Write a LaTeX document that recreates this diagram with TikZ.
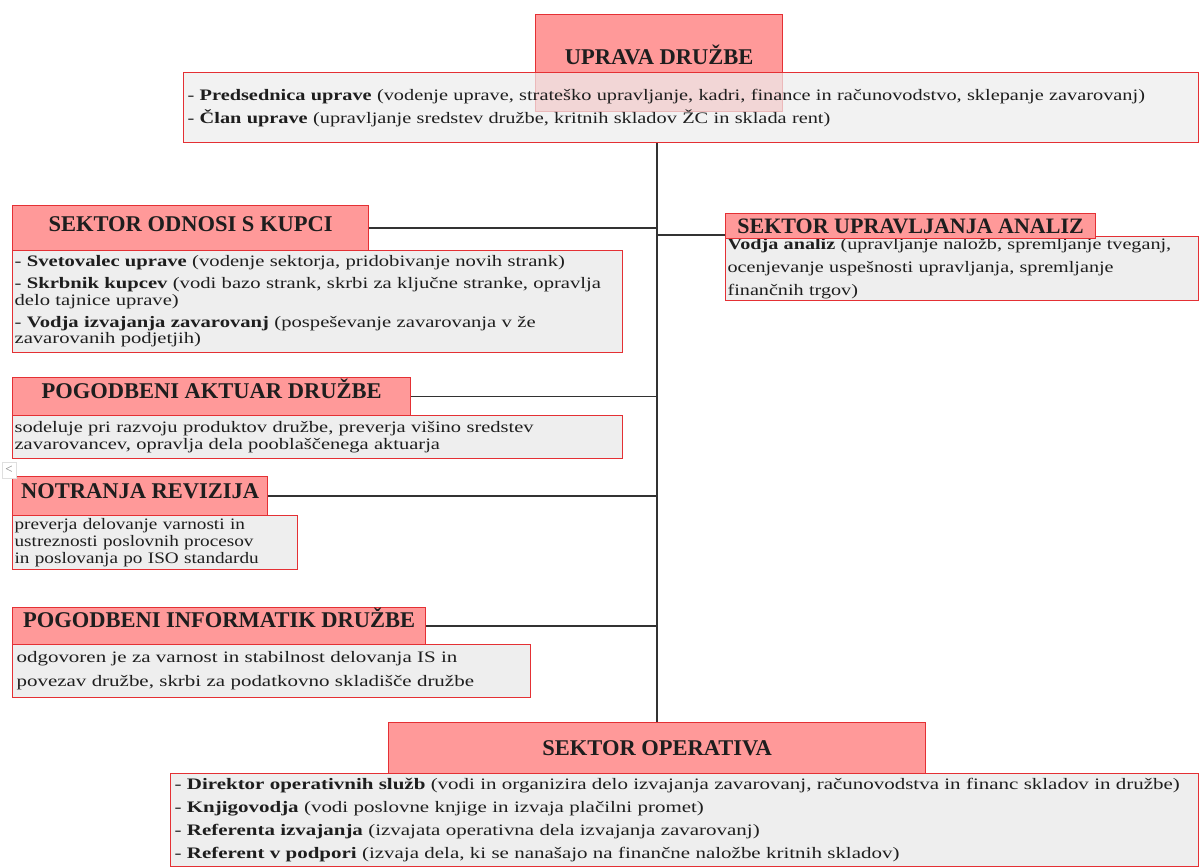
\documentclass[tikz,border=0pt]{standalone}
\usepackage{fontspec}
\setmainfont{Liberation Serif}
\newfontfamily\bodyfont{Liberation Serif}
\newfontfamily\hdrfont{Liberation Serif}
\usetikzlibrary{calc}
\definecolor{hdrfill}{RGB}{255,153,153}
\definecolor{hdrline}{RGB}{228,48,52}
\definecolor{descfill}{RGB}{238,238,238}
\definecolor{conn}{RGB}{50,50,50}
\definecolor{txt}{RGB}{30,30,30}
\newcommand{\hfont}[1]{\hdrfont\bfseries\fontsize{#1}{#1}\selectfont}
\newcommand{\bfont}[2]{\bodyfont\addfontfeatures{FakeStretch=#2}\fontsize{16}{#1}\selectfont}
\newcommand{\up}[2]{\raisebox{#1}{#2}}
\begin{document}
\begin{tikzpicture}[x=1pt,y=-1pt,
 hdr/.style={draw=hdrline, line width=1.2pt, fill=hdrfill, anchor=north west, inner sep=0pt, text=txt},
 desc/.style={draw=hdrline, line width=1.2pt, fill=descfill, anchor=north west, inner xsep=4pt, inner ysep=0pt, align=left, text=txt},
 link/.style={draw=conn, line width=1.4pt}]
\useasboundingbox[fill=white] (0,0) rectangle (1200,867);

% top
\node[hdr, minimum width=247pt, minimum height=97pt, font=\hfont{22.5}] (upravaH) at (535,14) {\up{16pt}{UPRAVA DRUŽBE}};
\node[desc, fill opacity=0.72, text opacity=1, text width=1007pt, minimum height=70pt, font=\bfont{23}{1.27}] (upravaD) at (183,72)
 {- \textbf{Predsednica uprave} (vodenje uprave, strateško upravljanje, kadri, finance in računovodstvo, sklepanje zavarovanj)\\
  - \textbf{Član uprave} (upravljanje sredstev družbe, kritnih skladov ŽC in sklada rent)};

% bottom
\node[hdr, minimum width=537pt, minimum height=51pt, font=\hfont{22.5}] (opH) at (388,722) {SEKTOR OPERATIVA};
\node[desc, text width=1020pt, minimum height=93pt, font=\bfont{23}{1.31}] (opD) at (170,773)
 {- \textbf{Direktor operativnih služb} (vodi in organizira delo izvajanja zavarovanj, računovodstva in financ skladov in družbe)\\
  - \textbf{Knjigovodja} (vodi poslovne knjige in izvaja plačilni promet)\\
  - \textbf{Referenta izvajanja} (izvajata operativna dela izvajanja zavarovanj)\\
  - \textbf{Referent v podpori} (izvaja dela, ki se nanašajo na finančne naložbe kritnih skladov)};

% sektor odnosi s kupci
\node[desc, inner xsep=2pt, text width=606pt, minimum height=102pt, font=\bfont{16.5}{1.29}] (odnosiD) at (12,250)
 {- \textbf{Svetovalec uprave} (vodenje sektorja, pridobivanje novih strank)\\[5.5pt]
  - \textbf{Skrbnik kupcev} (vodi bazo strank, skrbi za ključne stranke, opravlja\\
  delo tajnice uprave)\\[5.5pt]
  - \textbf{Vodja izvajanja zavarovanj} (pospeševanje zavarovanja v že\\
  zavarovanih podjetjih)};
\node[hdr, minimum width=356pt, minimum height=45pt, font=\hfont{22.5}] (odnosiH) at (12,205) {\up{8pt}{SEKTOR ODNOSI S KUPCI}};

% sektor upravljanja analiz
\node[desc, inner xsep=2pt, text width=469pt, minimum height=64pt, font=\bfont{23}{1.26}] (analizD) at (725,236)
 {\textbf{Vodja analiz} (upravljanje naložb, spremljanje tveganj,\\
  ocenjevanje uspešnosti upravljanja, spremljanje\\
  finančnih trgov)};
\node[hdr, minimum width=370pt, minimum height=25pt, font=\hfont{22}] (analizH) at (725,213) {SEKTOR UPRAVLJANJA ANALIZ};

% aktuar
\node[desc, inner xsep=2pt, text width=606pt, minimum height=43pt, font=\bfont{17}{1.28}] (aktuarD) at (12,415)
 {sodeluje pri razvoju produktov družbe, preverja višino sredstev\\
  zavarovancev, opravlja dela pooblaščenega aktuarja};
\node[hdr, minimum width=398pt, minimum height=38pt, font=\hfont{22.5}] (aktuarH) at (12,377) {\up{15pt}{POGODBENI AKTUAR DRUŽBE}};

% revizija
\node[desc, inner xsep=2pt, text width=281pt, minimum height=54pt, font=\bfont{17}{1.20}] (revizijaD) at (12,515)
 {preverja delovanje varnosti in\\
  ustreznosti poslovnih procesov\\
  in poslovanja po ISO standardu};
\node[hdr, minimum width=255pt, minimum height=39pt, font=\hfont{22.5}] (revizijaH) at (12,476) {\up{10pt}{NOTRANJA REVIZIJA}};
\node[draw=gray!25, fill=white, inner sep=1pt, minimum width=14pt, minimum height=16pt, font=\fontsize{13}{13}\selectfont, text=gray] (mark) at (9,470) {<};

% informatik
\node[desc, text width=510pt, minimum height=53pt, font=\bfont{24}{1.31}] (informatikD) at (12,644)
 {odgovoren je za varnost in stabilnost delovanja IS in\\
  povezav družbe, skrbi za podatkovno skladišče družbe};
\node[hdr, minimum width=413pt, minimum height=37pt, font=\hfont{22.5}] (informatikH) at (12,607) {\up{16pt}{POGODBENI INFORMATIK DRUŽBE}};

% connectors
\draw[link] (upravaD.south -| opH.north) -- (opH.north);
\draw[link] (odnosiH.east) -- (odnosiH.east -| opH.north);
\coordinate (aj) at ([yshift=-9pt]analizH.west);
\draw[link] (aj -| opH.north) -- (aj);
\draw[link] (aktuarH.east) -- (aktuarH.east -| opH.north);
\draw[link] (revizijaH.east) -- (revizijaH.east -| opH.north);
\draw[link] (informatikH.east) -- (informatikH.east -| opH.north);
\end{tikzpicture}
\end{document}
